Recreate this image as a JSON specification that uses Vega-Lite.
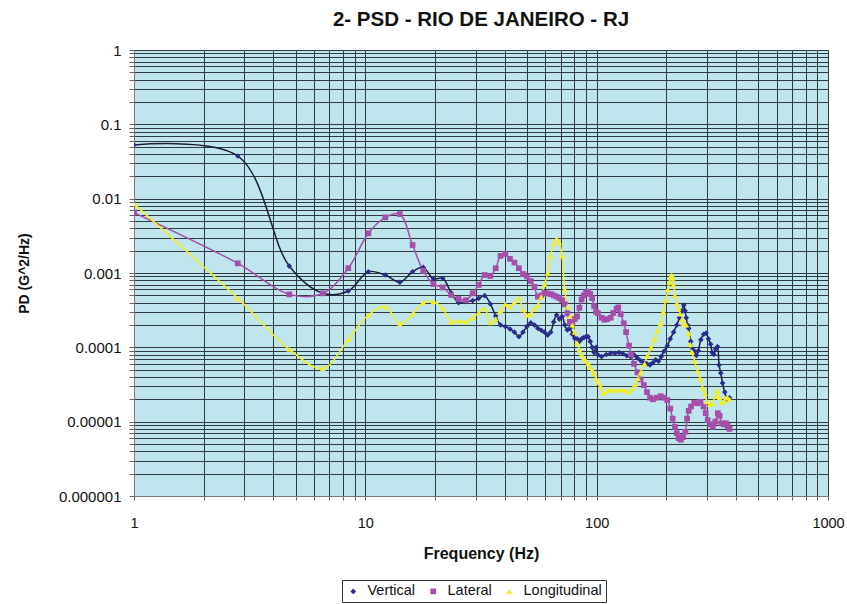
{
  "$schema": "https://vega.github.io/schema/vega-lite/v6.json",
  "width": 694,
  "height": 446,
  "autosize": {"type": "none"},
  "padding": {"left": 134, "top": 50, "right": 19, "bottom": 108},
  "background": "white",
  "config": {
    "font": "Liberation Sans",
    "view": {"fill": "#BFE5EE", "stroke": "#7a7a7a", "strokeWidth": 1},
    "axis": {"labelFont": "Liberation Sans", "titleFont": "Liberation Sans", "labelColor": "#111", "titleColor": "#111"}
  },
  "title": {"text": "2- PSD - RIO DE JANEIRO - RJ", "fontSize": 20.5, "fontWeight": "bold", "font": "Liberation Sans", "anchor": "middle", "offset": 13, "color": "#111"},
  "data": {"values": [
    {"s":"Vertical","f":1,"v":0.0527},{"s":"Vertical","f":2.81,"v":0.0375},{"s":"Vertical","f":4.69,"v":0.00124},{"s":"Vertical","f":6.56,"v":0.000533},{"s":"Vertical","f":8.44,"v":0.000573},{"s":"Vertical","f":10.31,"v":0.00104},{"s":"Vertical","f":12.2,"v":0.00094},{"s":"Vertical","f":14.1,"v":0.00075},{"s":"Vertical","f":16.0,"v":0.00104},{"s":"Vertical","f":17.8,"v":0.00119},{"s":"Vertical","f":19.7,"v":0.00083},{"s":"Vertical","f":21.6,"v":0.00085},{"s":"Vertical","f":23.5,"v":0.00054},{"s":"Vertical","f":25.3,"v":0.0004},{"s":"Vertical","f":27.2,"v":0.00041},{"s":"Vertical","f":29.1,"v":0.000425},{"s":"Vertical","f":30.9,"v":0.000456},{"s":"Vertical","f":32.8,"v":0.000495},{"s":"Vertical","f":34.7,"v":0.000383},{"s":"Vertical","f":36.6,"v":0.000264},{"s":"Vertical","f":38.4,"v":0.0002},{"s":"Vertical","f":40.3,"v":0.00019},{"s":"Vertical","f":42.2,"v":0.000176},{"s":"Vertical","f":44.1,"v":0.00016},{"s":"Vertical","f":46.1,"v":0.000139},{"s":"Vertical","f":48.0,"v":0.00016},{"s":"Vertical","f":49.9,"v":0.00019},{"s":"Vertical","f":51.9,"v":0.000214},{"s":"Vertical","f":53.8,"v":0.0002},{"s":"Vertical","f":55.7,"v":0.00018},{"s":"Vertical","f":57.6,"v":0.00017},{"s":"Vertical","f":59.5,"v":0.00016},{"s":"Vertical","f":61.4,"v":0.000146},{"s":"Vertical","f":63.3,"v":0.00016},{"s":"Vertical","f":65.2,"v":0.00022},{"s":"Vertical","f":67.1,"v":0.000272},{"s":"Vertical","f":69.0,"v":0.00024},{"s":"Vertical","f":70.9,"v":0.00026},{"s":"Vertical","f":72.8,"v":0.0002},{"s":"Vertical","f":74.7,"v":0.000171},{"s":"Vertical","f":76.6,"v":0.00018},{"s":"Vertical","f":78.5,"v":0.00015},{"s":"Vertical","f":80.4,"v":0.000132},{"s":"Vertical","f":82.3,"v":0.00013},{"s":"Vertical","f":84.2,"v":0.00012},{"s":"Vertical","f":86.1,"v":0.00013},{"s":"Vertical","f":88.0,"v":0.000135},{"s":"Vertical","f":89.9,"v":0.000139},{"s":"Vertical","f":91.8,"v":0.000139},{"s":"Vertical","f":93.8,"v":0.00012},{"s":"Vertical","f":95.6,"v":0.0001},{"s":"Vertical","f":97.5,"v":0.000085},{"s":"Vertical","f":99.4,"v":0.0001},{"s":"Vertical","f":101.3,"v":0.000079},{"s":"Vertical","f":105,"v":0.000075},{"s":"Vertical","f":110,"v":0.00008},{"s":"Vertical","f":115,"v":0.000083},{"s":"Vertical","f":120,"v":0.000083},{"s":"Vertical","f":125,"v":0.000085},{"s":"Vertical","f":130,"v":0.000082},{"s":"Vertical","f":135,"v":0.000077},{"s":"Vertical","f":140,"v":0.000075},{"s":"Vertical","f":145,"v":0.000079},{"s":"Vertical","f":150,"v":0.000072},{"s":"Vertical","f":155,"v":0.000066},{"s":"Vertical","f":160,"v":0.000062},{"s":"Vertical","f":165,"v":0.00006},{"s":"Vertical","f":170,"v":0.000058},{"s":"Vertical","f":175,"v":0.000062},{"s":"Vertical","f":180,"v":0.000068},{"s":"Vertical","f":185,"v":0.000065},{"s":"Vertical","f":190,"v":0.000075},{"s":"Vertical","f":195,"v":0.000088},{"s":"Vertical","f":202,"v":0.000105},{"s":"Vertical","f":208,"v":0.00013},{"s":"Vertical","f":215,"v":0.00016},{"s":"Vertical","f":222,"v":0.0002},{"s":"Vertical","f":228,"v":0.00025},{"s":"Vertical","f":234,"v":0.00031},{"s":"Vertical","f":238,"v":0.00037},{"s":"Vertical","f":241,"v":0.00031},{"s":"Vertical","f":244,"v":0.00025},{"s":"Vertical","f":247,"v":0.0002},{"s":"Vertical","f":250,"v":0.00018},{"s":"Vertical","f":255,"v":0.00012},{"s":"Vertical","f":260,"v":0.000095},{"s":"Vertical","f":265,"v":0.000088},{"s":"Vertical","f":270,"v":0.000078},{"s":"Vertical","f":275,"v":0.00009},{"s":"Vertical","f":282,"v":0.000126},{"s":"Vertical","f":290,"v":0.00015},{"s":"Vertical","f":297,"v":0.000155},{"s":"Vertical","f":304,"v":0.00013},{"s":"Vertical","f":311,"v":0.00011},{"s":"Vertical","f":316,"v":0.000085},{"s":"Vertical","f":321,"v":0.00008},{"s":"Vertical","f":327,"v":0.000095},{"s":"Vertical","f":333,"v":0.000102},{"s":"Vertical","f":338,"v":0.000058},{"s":"Vertical","f":344,"v":0.000045},{"s":"Vertical","f":350,"v":0.000033},{"s":"Vertical","f":358,"v":0.000025},{"s":"Vertical","f":367,"v":0.00002},{"s":"Vertical","f":375,"v":0.000021},

    {"s":"Lateral","f":1,"v":0.0065},{"s":"Lateral","f":2.81,"v":0.00135},{"s":"Lateral","f":4.69,"v":0.000516},{"s":"Lateral","f":6.56,"v":0.000533},{"s":"Lateral","f":8.44,"v":0.00116},{"s":"Lateral","f":10.31,"v":0.00342},{"s":"Lateral","f":12.2,"v":0.0056},{"s":"Lateral","f":14.1,"v":0.0062},{"s":"Lateral","f":16.0,"v":0.00238},{"s":"Lateral","f":17.8,"v":0.00107},{"s":"Lateral","f":19.7,"v":0.00071},{"s":"Lateral","f":21.6,"v":0.00064},{"s":"Lateral","f":23.5,"v":0.000506},{"s":"Lateral","f":25.3,"v":0.000447},{"s":"Lateral","f":27.2,"v":0.00043},{"s":"Lateral","f":29.1,"v":0.000533},{"s":"Lateral","f":30.9,"v":0.00069},{"s":"Lateral","f":32.8,"v":0.00094},{"s":"Lateral","f":34.7,"v":0.00091},{"s":"Lateral","f":36.6,"v":0.00116},{"s":"Lateral","f":38.4,"v":0.0017},{"s":"Lateral","f":40.3,"v":0.0018},{"s":"Lateral","f":42.2,"v":0.00155},{"s":"Lateral","f":44.1,"v":0.00138},{"s":"Lateral","f":46.1,"v":0.00116},{"s":"Lateral","f":48.0,"v":0.00097},{"s":"Lateral","f":49.9,"v":0.0009},{"s":"Lateral","f":51.9,"v":0.00078},{"s":"Lateral","f":53.8,"v":0.00065},{"s":"Lateral","f":55.7,"v":0.00048},{"s":"Lateral","f":57.6,"v":0.0005},{"s":"Lateral","f":59.5,"v":0.00054},{"s":"Lateral","f":61.4,"v":0.00053},{"s":"Lateral","f":63.3,"v":0.00052},{"s":"Lateral","f":65.2,"v":0.0005},{"s":"Lateral","f":67.1,"v":0.00048},{"s":"Lateral","f":69.0,"v":0.00046},{"s":"Lateral","f":70.9,"v":0.00043},{"s":"Lateral","f":72.8,"v":0.00038},{"s":"Lateral","f":74.7,"v":0.000287},{"s":"Lateral","f":76.6,"v":0.00022},{"s":"Lateral","f":78.5,"v":0.00021},{"s":"Lateral","f":80.4,"v":0.00024},{"s":"Lateral","f":82.3,"v":0.00026},{"s":"Lateral","f":84.2,"v":0.00034},{"s":"Lateral","f":86.1,"v":0.00044},{"s":"Lateral","f":88.0,"v":0.0005},{"s":"Lateral","f":89.9,"v":0.00055},{"s":"Lateral","f":91.8,"v":0.00056},{"s":"Lateral","f":93.8,"v":0.00052},{"s":"Lateral","f":95.6,"v":0.00046},{"s":"Lateral","f":97.5,"v":0.00036},{"s":"Lateral","f":99.4,"v":0.0003},{"s":"Lateral","f":101.3,"v":0.000287},{"s":"Lateral","f":105,"v":0.00025},{"s":"Lateral","f":108,"v":0.000235},{"s":"Lateral","f":111,"v":0.00024},{"s":"Lateral","f":115,"v":0.00025},{"s":"Lateral","f":118,"v":0.00029},{"s":"Lateral","f":122,"v":0.00033},{"s":"Lateral","f":124,"v":0.000345},{"s":"Lateral","f":127,"v":0.00028},{"s":"Lateral","f":131,"v":0.00021},{"s":"Lateral","f":134,"v":0.00016},{"s":"Lateral","f":138,"v":0.000105},{"s":"Lateral","f":141,"v":0.00008},{"s":"Lateral","f":145,"v":0.00006},{"s":"Lateral","f":150,"v":0.000046},{"s":"Lateral","f":155,"v":0.000037},{"s":"Lateral","f":160,"v":0.000031},{"s":"Lateral","f":165,"v":0.000025},{"s":"Lateral","f":170,"v":0.000021},{"s":"Lateral","f":175,"v":0.00002},{"s":"Lateral","f":182,"v":0.000021},{"s":"Lateral","f":189,"v":0.000022},{"s":"Lateral","f":195,"v":0.000021},{"s":"Lateral","f":202,"v":0.0000195},{"s":"Lateral","f":208,"v":0.000015},{"s":"Lateral","f":213,"v":0.000011},{"s":"Lateral","f":218,"v":0.0000085},{"s":"Lateral","f":222,"v":0.000007},{"s":"Lateral","f":226,"v":0.000006},{"s":"Lateral","f":231,"v":0.0000057},{"s":"Lateral","f":236,"v":0.0000062},{"s":"Lateral","f":242,"v":0.0000073},{"s":"Lateral","f":246,"v":0.000011},{"s":"Lateral","f":250,"v":0.000014},{"s":"Lateral","f":256,"v":0.000016},{"s":"Lateral","f":264,"v":0.000018},{"s":"Lateral","f":273,"v":0.0000177},{"s":"Lateral","f":281,"v":0.0000185},{"s":"Lateral","f":290,"v":0.000016},{"s":"Lateral","f":296,"v":0.000013},{"s":"Lateral","f":302,"v":0.0000105},{"s":"Lateral","f":310,"v":0.0000092},{"s":"Lateral","f":318,"v":0.0000085},{"s":"Lateral","f":326,"v":0.00001},{"s":"Lateral","f":334,"v":0.000013},{"s":"Lateral","f":340,"v":0.000012},{"s":"Lateral","f":347,"v":0.0000095},{"s":"Lateral","f":355,"v":0.0000092},{"s":"Lateral","f":362,"v":0.0000095},{"s":"Lateral","f":368,"v":0.0000088},{"s":"Lateral","f":375,"v":0.000008},

    {"s":"Longitudinal","f":1,"v":0.0085},{"s":"Longitudinal","f":2.81,"v":0.000456},{"s":"Longitudinal","f":4.69,"v":0.000094},{"s":"Longitudinal","f":6.56,"v":0.000052},{"s":"Longitudinal","f":8.44,"v":0.000128},{"s":"Longitudinal","f":10.31,"v":0.000272},{"s":"Longitudinal","f":12.2,"v":0.000352},{"s":"Longitudinal","f":14.1,"v":0.000206},{"s":"Longitudinal","f":16.0,"v":0.00028},{"s":"Longitudinal","f":17.8,"v":0.0004},{"s":"Longitudinal","f":19.7,"v":0.00041},{"s":"Longitudinal","f":21.6,"v":0.000335},{"s":"Longitudinal","f":23.5,"v":0.00022},{"s":"Longitudinal","f":25.3,"v":0.000227},{"s":"Longitudinal","f":27.2,"v":0.00022},{"s":"Longitudinal","f":29.1,"v":0.00025},{"s":"Longitudinal","f":30.9,"v":0.00029},{"s":"Longitudinal","f":32.8,"v":0.000335},{"s":"Longitudinal","f":34.7,"v":0.000214},{"s":"Longitudinal","f":36.6,"v":0.00024},{"s":"Longitudinal","f":38.4,"v":0.00031},{"s":"Longitudinal","f":40.3,"v":0.00038},{"s":"Longitudinal","f":42.2,"v":0.000352},{"s":"Longitudinal","f":44.1,"v":0.0004},{"s":"Longitudinal","f":46.1,"v":0.00046},{"s":"Longitudinal","f":48.0,"v":0.00032},{"s":"Longitudinal","f":49.9,"v":0.00027},{"s":"Longitudinal","f":51.9,"v":0.00028},{"s":"Longitudinal","f":53.8,"v":0.00033},{"s":"Longitudinal","f":55.7,"v":0.00037},{"s":"Longitudinal","f":57.6,"v":0.00048},{"s":"Longitudinal","f":59.5,"v":0.0007},{"s":"Longitudinal","f":61.4,"v":0.001},{"s":"Longitudinal","f":63.3,"v":0.0017},{"s":"Longitudinal","f":65.2,"v":0.0025},{"s":"Longitudinal","f":67.1,"v":0.0029},{"s":"Longitudinal","f":69.0,"v":0.0026},{"s":"Longitudinal","f":70.9,"v":0.0017},{"s":"Longitudinal","f":72.8,"v":0.0006},{"s":"Longitudinal","f":74.7,"v":0.00035},{"s":"Longitudinal","f":76.6,"v":0.00026},{"s":"Longitudinal","f":78.5,"v":0.0002},{"s":"Longitudinal","f":80.4,"v":0.00016},{"s":"Longitudinal","f":82.3,"v":0.000115},{"s":"Longitudinal","f":84.2,"v":0.000092},{"s":"Longitudinal","f":86.1,"v":0.00008},{"s":"Longitudinal","f":88.0,"v":0.000072},{"s":"Longitudinal","f":89.9,"v":0.000065},{"s":"Longitudinal","f":91.8,"v":0.00006},{"s":"Longitudinal","f":93.8,"v":0.000055},{"s":"Longitudinal","f":95.6,"v":0.00005},{"s":"Longitudinal","f":97.5,"v":0.000045},{"s":"Longitudinal","f":99.4,"v":0.000038},{"s":"Longitudinal","f":101.3,"v":0.000034},{"s":"Longitudinal","f":104,"v":0.00003},{"s":"Longitudinal","f":107,"v":0.000024},{"s":"Longitudinal","f":111,"v":0.000026},{"s":"Longitudinal","f":115,"v":0.000027},{"s":"Longitudinal","f":120,"v":0.000026},{"s":"Longitudinal","f":127,"v":0.000027},{"s":"Longitudinal","f":133,"v":0.000026},{"s":"Longitudinal","f":138,"v":0.000025},{"s":"Longitudinal","f":143,"v":0.000028},{"s":"Longitudinal","f":147,"v":0.000032},{"s":"Longitudinal","f":151,"v":0.000038},{"s":"Longitudinal","f":155,"v":0.000046},{"s":"Longitudinal","f":161,"v":0.00006},{"s":"Longitudinal","f":166,"v":0.000078},{"s":"Longitudinal","f":172,"v":0.0001},{"s":"Longitudinal","f":178,"v":0.00013},{"s":"Longitudinal","f":184,"v":0.00017},{"s":"Longitudinal","f":189,"v":0.00021},{"s":"Longitudinal","f":194,"v":0.0003},{"s":"Longitudinal","f":199,"v":0.00043},{"s":"Longitudinal","f":203,"v":0.0006},{"s":"Longitudinal","f":206,"v":0.00075},{"s":"Longitudinal","f":209,"v":0.0009},{"s":"Longitudinal","f":211,"v":0.00095},{"s":"Longitudinal","f":213,"v":0.00085},{"s":"Longitudinal","f":215,"v":0.0007},{"s":"Longitudinal","f":218,"v":0.0005},{"s":"Longitudinal","f":222,"v":0.00039},{"s":"Longitudinal","f":226,"v":0.00033},{"s":"Longitudinal","f":230,"v":0.00028},{"s":"Longitudinal","f":234,"v":0.00024},{"s":"Longitudinal","f":238,"v":0.00021},{"s":"Longitudinal","f":244,"v":0.0002},{"s":"Longitudinal","f":250,"v":0.000155},{"s":"Longitudinal","f":254,"v":0.00011},{"s":"Longitudinal","f":258,"v":0.000088},{"s":"Longitudinal","f":265,"v":0.000065},{"s":"Longitudinal","f":273,"v":0.000048},{"s":"Longitudinal","f":280,"v":0.000038},{"s":"Longitudinal","f":288,"v":0.000028},{"s":"Longitudinal","f":294,"v":0.000024},{"s":"Longitudinal","f":300,"v":0.0000185},{"s":"Longitudinal","f":308,"v":0.000017},{"s":"Longitudinal","f":316,"v":0.0000175},{"s":"Longitudinal","f":325,"v":0.000022},{"s":"Longitudinal","f":333,"v":0.000026},{"s":"Longitudinal","f":340,"v":0.000021},{"s":"Longitudinal","f":347,"v":0.000018},{"s":"Longitudinal","f":355,"v":0.0000185},{"s":"Longitudinal","f":362,"v":0.000021},{"s":"Longitudinal","f":368,"v":0.000021},{"s":"Longitudinal","f":375,"v":0.00002}
  ]},
  "encoding": {
    "x": {"field": "f", "type": "quantitative",
      "scale": {"type": "log", "domain": [1, 1000], "nice": false},
      "axis": {"title": "Frequency (Hz)", "titleFontSize": 16, "titleFontWeight": "bold", "titlePadding": 16,
        "labelFontSize": 14.5, "labelPadding": 16, "tickSize": 4, "tickColor": "#666", "domainColor": "#777",
        "labelOverlap": false, "labelFlush": false,
        "values": [1,2,3,4,5,6,7,8,9,10,20,30,40,50,60,70,80,90,100,200,300,400,500,600,700,800,900,1000],
        "labelExpr": "(datum.value==1||datum.value==10||datum.value==100||datum.value==1000) ? ('' + datum.value) : ''",
        "gridColor": "#2E3A3D", "gridOpacity": 1, "gridWidth": 1}},
    "y": {"field": "v", "type": "quantitative",
      "scale": {"type": "log", "domain": [0.000001, 1], "nice": false},
      "axis": {"title": "PD (G^2/Hz)", "titleFontSize": 14, "titleFontWeight": "bold", "titlePadding": 27,
        "labelFontSize": 15, "labelPadding": 8, "tickSize": 5, "tickColor": "#666", "domainColor": "#777",
        "labelOverlap": false, "labelFlush": false,
        "values": [0.000001,0.000002,0.000003,0.000004,0.000005,0.000006,0.000007,0.000008,0.000009,0.00001,0.00002,0.00003,0.00004,0.00005,0.00006,0.00007,0.00008,0.00009,0.0001,0.0002,0.0003,0.0004,0.0005,0.0006,0.0007,0.0008,0.0009,0.001,0.002,0.003,0.004,0.005,0.006,0.007,0.008,0.009,0.01,0.02,0.03,0.04,0.05,0.06,0.07,0.08,0.09,0.1,0.2,0.3,0.4,0.5,0.6,0.7,0.8,0.9,1],
        "labelExpr": "abs(log(datum.value)/LN10 - round(log(datum.value)/LN10)) < 0.000001 ? format(datum.value, '.6~f') : ''",
        "gridColor": "#2E3A3D", "gridOpacity": 1, "gridWidth": 1}}
  },
  "layer": [
    {
      "mark": {"type": "line", "interpolate": "catmull-rom", "strokeWidth": 1.5, "clip": true},
      "encoding": {
        "stroke": {"field": "s", "type": "nominal",
          "scale": {"domain": ["Vertical", "Lateral", "Longitudinal"], "range": ["#1E1E3A", "#A64FAA", "#F3EE1F"]},
          "legend": {"title": null, "orient": "none", "legendX": 208, "legendY": 530, "direction": "horizontal",
            "strokeColor": "#333", "padding": 4, "labelFont": "Liberation Sans", "labelFontSize": 14.5, "labelColor": "#111",
            "symbolSize": 625, "labelOffset": 7, "columnPadding": 10, "symbolStrokeWidth": 0,
            "encode": {"symbols": {"update": {
              "shape": {"signal": "datum.value == 'Vertical' ? 'M-1,-0.06H1V0.06H-1ZM0,-0.24L0.24,0L0,0.24L-0.24,0Z' : datum.value == 'Lateral' ? 'M-1,-0.06H1V0.06H-1ZM-0.18,-0.18H0.18V0.18H-0.18Z' : 'M-1,-0.06H1V0.06H-1ZM0,-0.26L0.26,0.2H-0.26Z'"},
              "fill": {"signal": "datum.value == 'Vertical' ? '#2A2D8E' : datum.value == 'Lateral' ? '#A64FAA' : '#E8E21A'"},
              "fillOpacity": {"value": 1},
              "size": {"value": 625},
              "strokeWidth": {"value": 0}
            }}}}},
        "order": {"field": "f", "type": "quantitative"}
      }
    },
    {
      "mark": {"type": "point", "filled": true, "opacity": 1, "clip": true},
      "encoding": {
        "color": {"field": "s", "type": "nominal", "legend": null,
          "scale": {"domain": ["Vertical", "Lateral", "Longitudinal"], "range": ["#2A2D8E", "#A64FAA", "#F3EE1F"]}},
        "shape": {"field": "s", "type": "nominal", "legend": null,
          "scale": {"domain": ["Vertical", "Lateral", "Longitudinal"], "range": ["diamond", "square", "triangle-up"]}},
        "size": {"field": "s", "type": "nominal", "legend": null,
          "scale": {"domain": ["Vertical", "Lateral", "Longitudinal"], "range": [32, 34, 50]}}
      }
    }
  ]
}
